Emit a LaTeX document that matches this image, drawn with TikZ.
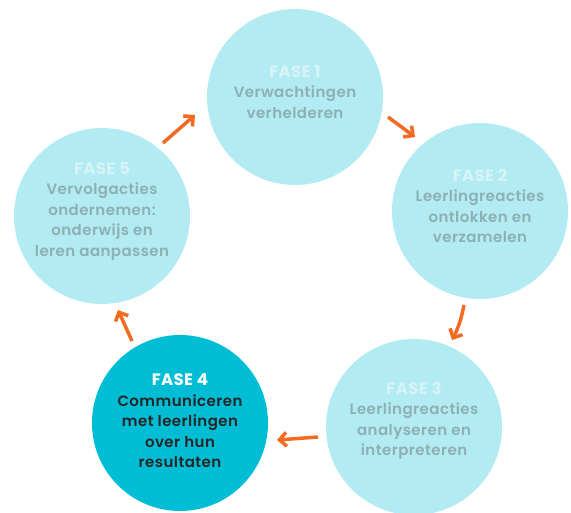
\documentclass[tikz,border=0pt]{standalone}
\usepackage{fontspec}
\setmainfont{Poppins}[BoldFont = {Poppins SemiBold}, LetterSpace = 3]
\newfontfamily\phaseheadfont{Poppins}[LetterSpace = 2]
\usetikzlibrary{arrows.meta}
\definecolor{phaseLightFill}{HTML}{B2EBF2}
\definecolor{phaseDarkFill}{HTML}{00BDD6}
\definecolor{phaseGreyText}{HTML}{8DB0B5}
\definecolor{phaseTitleLight}{HTML}{D6F4F8}
\definecolor{phaseArrowCol}{HTML}{F26B21}
\newcommand{\phasehead}[1]{{\phaseheadfont\bfseries\fontsize{16.5bp}{21bp}\selectfont #1}}
\tikzstyle{lightPhase}=[shape = circle, minimum size = 176bp, inner sep = 0pt, fill = phaseLightFill]
\tikzstyle{darkPhase}=[lightPhase, fill = phaseDarkFill]
\tikzstyle{phaseText}=[align = center, text = phaseGreyText, font = \fontsize{15bp}{20.5bp}\selectfont\bfseries]
\tikzstyle{phaseArrow}=[draw = phaseArrowCol, line width = 3.5bp, -{Straight Barb[length = 7bp, width = 14bp]}]

\begin{document}
\begin{tikzpicture}[x = 1bp, y = -1bp]
\useasboundingbox (0,0) rectangle (571,513);
% the five phases
\node[lightPhase] (f1) at (295,97) {};
\node[lightPhase] (f2) at (480,211) {};
\node[lightPhase] (f3) at (414,427) {};
\node[darkPhase] (f4) at (180,423) {};
\node[lightPhase] (f5) at (102,216) {};
\node[phaseText] (t1) at ([yshift = 5bp]f1.center) {\phasehead{\textcolor{phaseTitleLight}{FASE 1}}\\Verwachtingen\\verhelderen};
\node[phaseText] (t2) at ([yshift = 5bp]f2.center) {\phasehead{\textcolor{phaseTitleLight}{FASE 2}}\\Leerlingreacties\\ontlokken en\\verzamelen};
\node[phaseText] (t3) at ([yshift = 6bp]f3.center) {\phasehead{\textcolor{phaseTitleLight}{FASE 3}}\\Leerlingreacties\\analyseren en\\interpreteren};
\node[phaseText, text = black!85] (t4) at ([yshift = 2bp]f4.center) {\phasehead{\textcolor{white}{FASE 4}}\\Communiceren\\met leerlingen\\over hun\\resultaten};
\node[phaseText] (t5) at ([yshift = 5bp]f5.center) {\phasehead{\textcolor{phaseTitleLight}{FASE 5}}\\Vervolgacties\\ondernemen:\\onderwijs en\\leren aanpassen};
% arrow ends
\coordinate (a12) at (388,117);
\coordinate (b12) at (415,137);
\coordinate (a23) at (464,305);
\coordinate (b23) at (452,340);
\coordinate (a34) at (318,437);
\coordinate (b34) at (277,440);
\coordinate (a45) at (132,341);
\coordinate (b45) at (118,310);
\coordinate (a51) at (163,143);
\coordinate (b51) at (195,115);
\draw[phaseArrow] (a12) -- (b12);
\draw[phaseArrow] (a23) to[bend left = 8] (b23);
\draw[phaseArrow] (a34) -- (b34);
\draw[phaseArrow] (a45) -- (b45);
\draw[phaseArrow] (a51) -- (b51);
\end{tikzpicture}
\end{document}
